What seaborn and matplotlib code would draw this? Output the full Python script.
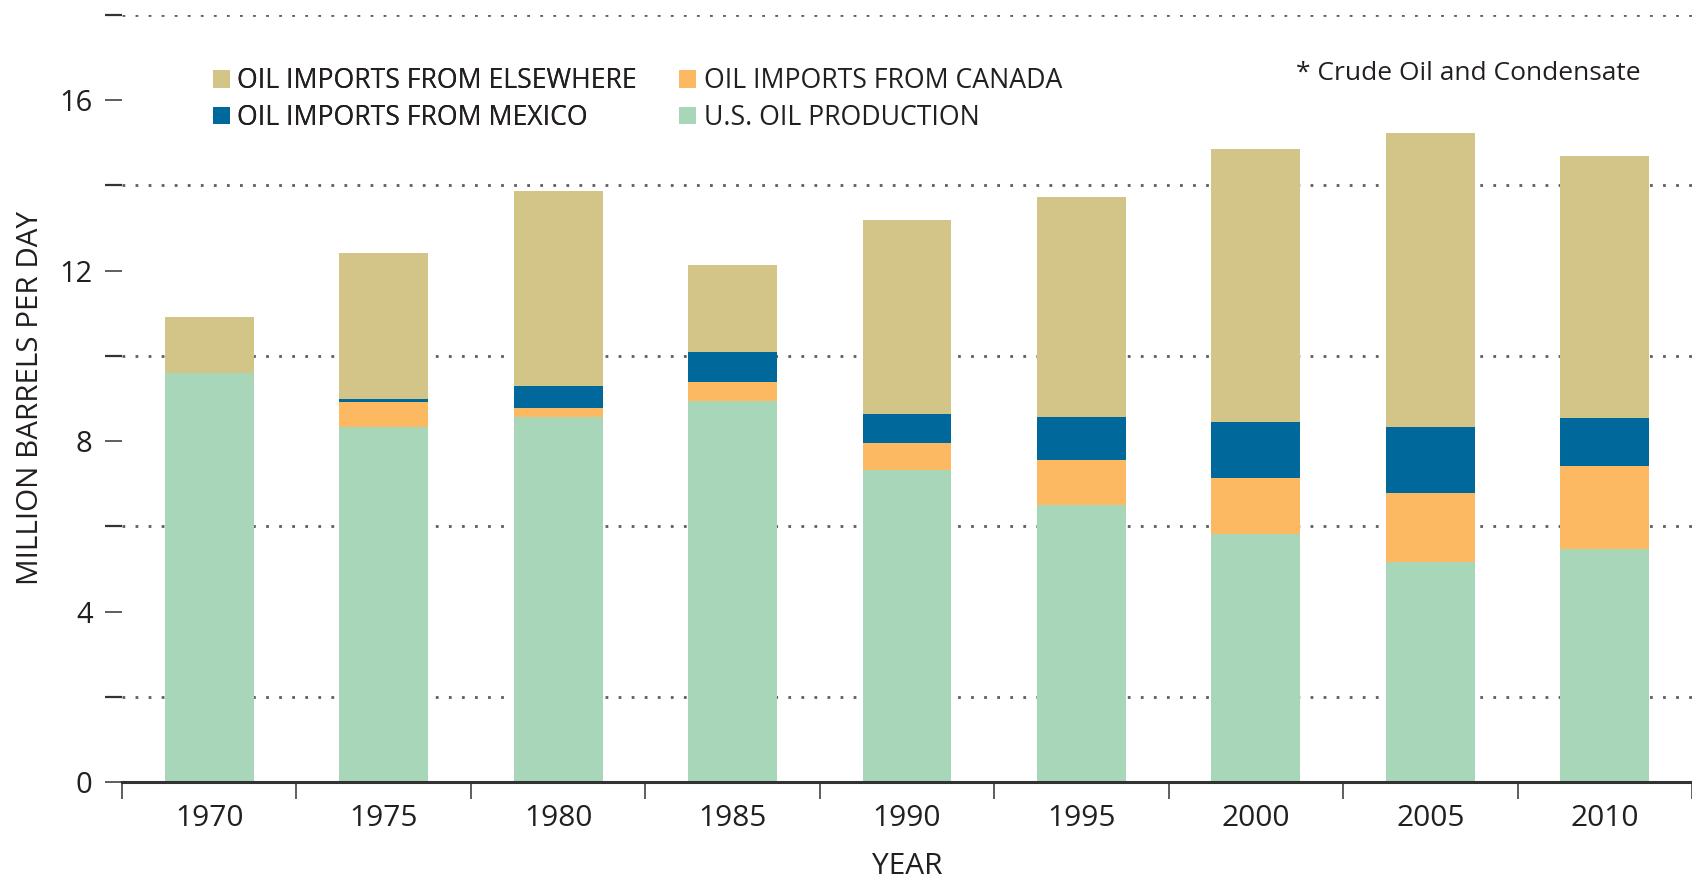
import matplotlib
matplotlib.use("Agg")
import matplotlib.pyplot as plt
from matplotlib.patches import Patch
import seaborn as sns

# valores (milhões de barris por dia)
anos = ["1970", "1975", "1980", "1985", "1990", "1995", "2000", "2005", "2010"]
producao_eua = [9.59, 8.33, 8.57, 8.94, 7.31, 6.51, 5.82, 5.16, 5.47]
import_canada = [0.0, 0.59, 0.21, 0.44, 0.65, 1.05, 1.32, 1.61, 1.95]
import_mexico = [0.0, 0.07, 0.51, 0.72, 0.68, 1.01, 1.31, 1.56, 1.12]
import_outros = [1.33, 3.42, 4.58, 2.03, 4.54, 5.15, 6.41, 6.90, 6.16]

rotulos = ["OIL IMPORTS FROM ELSEWHERE", "OIL IMPORTS FROM MEXICO",
           "OIL IMPORTS FROM CANADA", "U.S. OIL PRODUCTION"]

COR_OUTROS = "#d3c488"
COR_MEXICO = "#00689b"
COR_CANADA = "#fcb962"
COR_PROD = "#a8d6b9"
COR_TEXTO = "#231f20"
COR_EIXO = "#333333"


def main():
    sns.set_theme(style="white")
    plt.rcParams["font.family"] = ["Open Sans", "DejaVu Sans"]
    plt.rcParams["text.color"] = COR_TEXTO

    fig = plt.figure(figsize=(16.92, 8.81), dpi=100)
    ax = fig.add_axes([0.0721, 0.1124, 0.9279, 0.8706])

    # empilhamento: barras acumuladas desenhadas da mais alta para a mais baixa
    topo_canada = [p + c for p, c in zip(producao_eua, import_canada)]
    topo_mexico = [t + m for t, m in zip(topo_canada, import_mexico)]
    total = [t + o for t, o in zip(topo_mexico, import_outros)]

    for valores, cor in [(total, COR_OUTROS), (topo_mexico, COR_MEXICO),
                         (topo_canada, COR_CANADA), (producao_eua, COR_PROD)]:
        sns.barplot(x=anos, y=valores, color=cor, saturation=1, width=0.51,
                    errorbar=None, linewidth=0, ax=ax)

    ax.set_xlim(-0.5, len(anos) - 0.5)
    ax.set_ylim(0, 18)

    # eixo y: rótulos em 0,4,...; linhas pontilhadas em 2,6,...
    ax.set_yticks([0, 4, 8, 12, 16])
    ax.set_yticks([2, 6, 10, 14, 18], minor=True)
    ax.tick_params(axis="y", which="major", direction="out", length=12.2,
                   width=1.1, color=COR_EIXO, labelsize=21, labelcolor=COR_TEXTO, pad=9, left=True)
    ax.tick_params(axis="y", which="minor", direction="out", length=12.2,
                   width=1.6, color=COR_EIXO, left=True)
    ax.yaxis.grid(True, which="minor", color="#5e5e5e", linewidth=2.0,
                  linestyle=(0, (1, 3.7)))
    ax.yaxis.grid(False, which="major")
    ax.set_axisbelow(True)

    # eixo x: marcas entre as categorias
    ax.set_xticks(range(len(anos)))
    ax.set_xticks([i - 0.5 for i in range(len(anos) + 1)], minor=True)
    ax.tick_params(axis="x", which="major", length=0, labelsize=21.5,
                   labelcolor=COR_TEXTO, pad=16)
    ax.tick_params(axis="x", which="minor", direction="out", length=12.2,
                   width=1.1, color=COR_EIXO, bottom=True)
    ax.xaxis.grid(False)

    for lado in ["top", "right", "left"]:
        ax.spines[lado].set_visible(False)
    ax.spines["bottom"].set_linewidth(2.2)
    ax.spines["bottom"].set_color(COR_EIXO)

    ax.set_xlabel("YEAR", fontsize=21.5, color=COR_TEXTO)
    ax.xaxis.set_label_coords(0.5, -0.0915)
    ax.set_ylabel("MILLION BARRELS PER DAY", fontsize=21.3, color=COR_TEXTO, va="center")
    ax.yaxis.set_label_coords(-0.0585, 0.5)

    # legenda em duas colunas (duas legendas para posicionar cada coluna)
    cores = [COR_OUTROS, COR_MEXICO, COR_CANADA, COR_PROD]
    alcas = [Patch(facecolor=c, edgecolor="none", label=r) for c, r in zip(cores, rotulos)]
    opcoes = dict(loc="center left", frameon=False, fontsize=19.2, borderpad=0,
                  borderaxespad=0, handlelength=0.64, handleheight=0.64,
                  handletextpad=0.28, labelspacing=0.32)
    leg1 = fig.legend(handles=alcas[:2], bbox_to_anchor=(0.1257, 0.887), **opcoes)
    fig.add_artist(leg1)
    fig.legend(handles=alcas[2:], bbox_to_anchor=(0.4013, 0.887), **opcoes)

    fig.text(1296 / 1692, 1 - 74 / 881, "* Crude Oil and Condensate",
             fontsize=19, color=COR_TEXTO, ha="left", va="center")

    fig.savefig("out.png", dpi=100)


if __name__ == "__main__":
    main()
